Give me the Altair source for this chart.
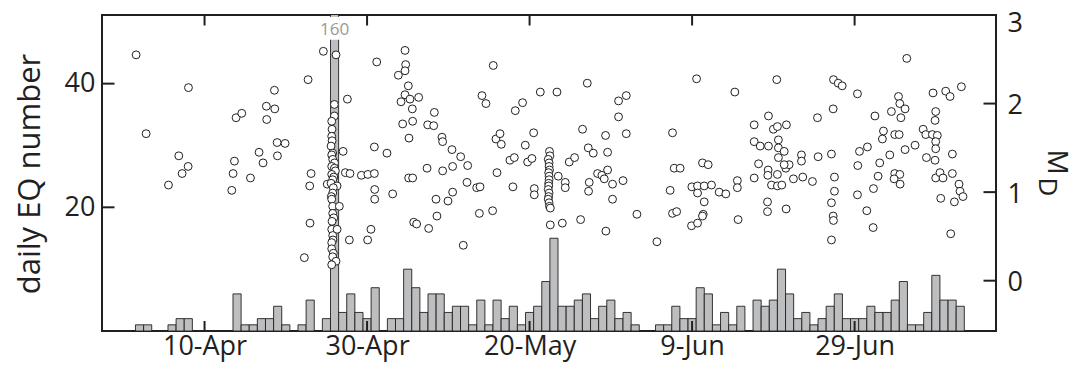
import altair as alt
import pandas as pd

# ---------------- data ----------------
BASE = "2019-04-10"          # day offsets below are counted from 10-Apr
X_START, X_END = -12.62, 97.4
TICK_DAYS = [0, 20, 40, 60, 80]
COUNT_TICKS = [20, 40]
MAG_TICKS = [0, 1, 2, 3]
COUNT_DOMAIN = [0, 51.1]
MAG_DOMAIN = [-0.568, 3.0]

# daily earthquake number (bars)
bar_day = [-8, -7, -4, -3, -2,
           4, 5, 6, 7, 8, 9, 10,
           12, 13,
           15, 16, 17, 18, 19, 20, 21,
           23, 24, 25, 26, 27, 28, 29, 30, 31, 32, 33, 34, 35, 36, 37, 38, 39, 40,
           41, 42, 43, 44, 45, 46, 47, 48, 49, 50, 51, 52, 53,
           56, 57, 58, 59, 60, 61, 62, 63, 64, 65, 66,
           68, 69, 70, 71, 72, 73, 74, 75, 76, 77, 78, 79, 80, 81, 82, 83, 84, 85,
           86, 87, 88, 89, 90, 91, 92, 93]
bar_count = [1, 1, 1, 2, 2,
             6, 1, 1, 2, 2, 4, 1,
             1, 5,
             2, 160, 3, 6, 3, 2, 7,
             2, 2, 10, 7, 3, 6, 6, 3, 4, 4, 1, 5, 1, 5, 2, 4, 1, 3,
             4, 8, 15, 4, 4, 5, 6, 2, 4, 5, 2, 3, 1,
             1, 1, 4, 2, 2, 7, 6, 1, 3, 1, 4,
             5, 4, 5, 10, 6, 2, 3, 1, 2, 4, 6, 2, 2, 2, 4, 3, 3, 5,
             8, 1, 1, 3, 9, 5, 5, 4]

# broken tall bar annotation
BREAK_DAY = 16
BREAK_RANGE = [47.1, 50.8]
BREAK_LABEL = "160"
BREAK_LABEL_Y = 48.6

# magnitude M_D of single events (circles)
day_a = [-8.42, -7.19, -4.44, -3.17, -2.76, -2.02, -1.98,
         3.35, 3.51, 3.68, 3.88, 4.58, 5.65, 6.71, 7.2, 7.61, 7.65, 8.6, 8.64, 8.93, 8.97, 9.91,
         12.28, 12.74, 12.94, 13.11, 12.98, 14.62, 15.1]
mag_a = [2.55, 1.66, 1.08, 1.41, 1.21, 1.29, 2.18,
         1.02, 1.21, 1.35, 1.84, 1.89, 1.16, 1.45, 1.33, 1.97, 1.82, 2.15, 1.94, 1.56, 1.41, 1.55,
         0.26, 2.27, 1.07, 1.21, 0.65, 2.59, 1.09]
day_b = [15.98, 15.98, 15.65, 15.69, 15.65, 15.7, 15.57, 15.77, 15.65, 15.77,
         16.0, 15.65, 15.98, 16.1, 15.65, 15.9, 15.77, 15.57, 16.31, 15.85,
         15.77, 15.6, 15.65, 15.77, 16.59, 15.77, 15.9, 15.69, 15.65, 16.31,
         15.77, 15.8, 15.65, 15.65, 15.85, 15.77, 16.18, 15.65]
mag_b = [1.99, 1.86, 1.80, 1.71, 1.63, 1.58, 1.52, 1.44, 1.42, 1.37,
         1.33, 1.29, 1.27, 1.24, 1.20, 1.17, 1.14, 1.10, 1.07, 1.05,
         0.99, 0.95, 0.92, 0.84, 0.84, 0.76, 0.71, 0.67, 0.58, 0.58,
         0.51, 0.46, 0.43, 0.36, 0.31, 0.27, 0.22, 0.18]
day_c = [16.18, 17.58, 17.05, 17.33, 17.9, 17.82, 19.3, 20.1, 20.9, 20.9,
         21.19, 20.94, 20.94, 20.48, 20.07, 22.45]
mag_c = [2.55, 2.05, 1.46, 1.22, 1.21, 0.46, 1.19, 1.20, 1.21, 1.51,
         2.47, 1.03, 0.92, 0.58, 0.46, 1.44]
day_d = [23.15, 24.67, 24.75, 24.67, 23.85, 25.08, 24.67, 26.35, 25.28, 24.18,
         25.57, 25.61, 24.38, 25.16, 25.12, 25.61, 27.46, 28.2, 28.28, 29.22,
         29.3, 27.38, 29.3, 30.45, 30.53, 31.52, 32.38, 32.3, 30.53, 29.96,
         28.48, 28.6, 25.74, 26.1, 27.58, 31.84, 33.49, 33.9, 33.82, 35.45,
         35.99, 34.14, 34.63, 35.53, 35.86, 36.36, 36.52, 37.58, 38.12, 37.95,
         38.24, 39.14, 39.47, 39.76, 40.29, 40.5, 40.58, 40.58, 41.32, 43.37]
mag_d = [0.98, 2.60, 2.44, 2.37, 2.32, 2.20, 2.10, 2.07, 2.05, 2.02,
         1.94, 1.80, 1.77, 1.61, 1.16, 1.16, 1.76, 1.75, 1.90, 1.62,
         1.57, 1.27, 1.24, 1.48, 1.29, 1.40, 1.30, 1.11, 1.00, 0.90,
         0.92, 0.73, 0.66, 0.64, 0.59, 0.40, 1.05, 1.06, 0.76, 0.79,
         1.22, 2.09, 2.00, 2.43, 1.60, 1.66, 1.54, 1.36, 1.39, 1.06,
         1.92, 2.01, 1.53, 1.34, 1.38, 1.67, 1.04, 0.97, 2.13, 2.13]
day_e = [42.45, 42.5, 42.3, 42.4, 42.4, 42.45, 42.35, 42.4, 42.4, 42.35,
         42.35, 42.3, 42.4, 42.35, 42.3, 42.4, 42.45, 42.55]
mag_e = [1.46, 1.41, 1.37, 1.33, 1.29, 1.25, 1.22, 1.18, 1.14, 1.10,
         1.07, 1.03, 0.99, 0.95, 0.92, 0.88, 0.84, 0.82]
day_f = [43.53, 44.39, 44.39, 42.55, 44.03, 44.88, 45.54, 46.52, 47.1, 47.22,
         47.84, 46.28, 47.34, 47.26, 48.37, 48.9, 49.35, 49.6, 49.6, 49.19,
         50.21, 50.21, 49.39, 50.95, 51.9, 50.95, 51.9, 51.5, 53.21, 55.67,
         57.59, 57.8, 58.53, 57.3, 57.59, 58.1, 59.97, 59.93, 60.67]
mag_f = [1.18, 1.11, 1.05, 0.63, 0.65, 1.34, 1.39, 1.71, 2.23, 1.50,
         1.44, 0.69, 1.11, 1.01, 1.21, 1.19, 1.64, 1.45, 1.25, 1.15,
         1.09, 0.92, 0.56, 2.03, 2.09, 1.85, 1.66, 1.13, 0.75, 0.44,
         1.67, 1.27, 1.27, 1.02, 0.76, 0.78, 1.06, 0.62, 0.65]
day_g = [60.55, 61.28, 61.98, 60.67, 60.67, 61.49, 62.39, 63.33, 64.15, 61.49,
         61.37, 61.28, 65.26, 65.57, 65.57, 65.66, 67.64, 67.64, 67.64, 68.38,
         69.4, 69.4, 68.18, 69.36, 69.32, 69.77, 69.28, 69.28, 70.42, 70.0,
         70.5, 71.61, 70.62, 70.62, 70.62, 71.33, 71.53, 71.94, 71.33, 70.5,
         70.5, 71.04, 71.57, 72.47, 73.46, 73.46, 73.62, 74.81, 75.43, 75.51]
mag_g = [2.28, 1.33, 1.31, 1.07, 0.99, 1.07, 1.08, 1.00, 0.98, 0.89,
         0.75, 0.73, 2.13, 1.13, 1.05, 0.69, 1.76, 1.57, 1.16, 1.52,
         1.52, 1.86, 1.32, 1.25, 1.19, 1.08, 0.89, 0.78, 2.27, 1.71,
         1.74, 1.76, 1.59, 1.50, 1.39, 1.46, 1.27, 1.31, 1.31, 1.20,
         1.07, 1.08, 0.81, 1.15, 1.42, 1.35, 1.17, 1.12, 1.84, 1.40]
day_h = [77.36, 77.4, 77.98, 78.47, 80.35, 77.15, 77.52, 77.52, 77.15, 77.36,
         77.4, 77.15, 80.39, 80.6, 81.58, 80.35, 81.5, 82.32, 82.28, 82.5,
         83.09, 82.89, 83.55, 83.42, 84.33, 84.53, 84.94, 85.48, 85.4, 85.56,
         86.21, 85.69, 86.42, 86.21, 84.94, 85.56, 84.86, 85.6, 87.44, 88.43,
         88.76, 89.65, 89.98, 89.9, 89.57, 90.18, 89.98, 89.98, 88.84, 89.9,
         89.98, 90.51, 90.88, 90.6, 91.21, 91.75, 93.14, 92.03, 92.03, 92.85,
         92.97, 93.34, 92.28, 91.83]
mag_h = [1.94, 2.27, 2.23, 2.20, 2.11, 1.43, 1.17, 1.01, 0.88, 0.73,
         0.68, 0.46, 1.30, 1.46, 1.51, 0.97, 0.79, 1.04, 0.60, 1.86,
         1.33, 1.18, 1.69, 1.60, 1.42, 1.91, 1.65, 1.65, 2.08, 2.00,
         1.94, 1.84, 2.51, 1.48, 1.21, 1.20, 1.15, 1.09, 1.53, 1.71,
         1.65, 2.12, 1.91, 1.81, 1.65, 1.64, 1.57, 1.49, 1.39, 1.36,
         1.16, 1.22, 1.16, 0.93, 2.14, 2.08, 2.19, 1.43, 1.21, 1.09,
         1.01, 0.95, 0.89, 0.53]

md_day = day_a + day_b + day_c + day_d + day_e + day_f + day_g + day_h
md_mag = mag_a + mag_b + mag_c + mag_d + mag_e + mag_f + mag_g + mag_h
assert len(md_day) == len(md_mag)
assert len(bar_day) == len(bar_count)

# ---------------- styling ----------------
W, H = 894, 316
FONT = "Open Sans"
INK = "#231f20"
GRAY = "#bcbec0"

t0 = pd.Timestamp(BASE, tz="UTC")


def iso(days):
    return [(t0 + pd.Timedelta(days=float(d))).strftime("%Y-%m-%dT%H:%M:%SZ") for d in days]


def ms(d):
    return int((t0 + pd.Timedelta(days=float(d))).value // 10**6)


bars_df = pd.DataFrame({
    "start": iso([d - 0.5 for d in bar_day]),
    "end": iso([d + 0.5 for d in bar_day]),
    "count": bar_count,
})
pts_df = pd.DataFrame({"t": iso(md_day), "mag": md_mag})
brk_df = pd.DataFrame({
    "start": iso([BREAK_DAY - 0.62]), "end": iso([BREAK_DAY + 0.62]),
    "lo": [BREAK_RANGE[0]], "hi": [BREAK_RANGE[1]],
    "t": iso([BREAK_DAY]), "y": [BREAK_LABEL_Y], "label": [BREAK_LABEL],
})
xt_df = pd.DataFrame({"t": iso(TICK_DAYS)})
ct_df = pd.DataFrame({"v": COUNT_TICKS})
mt_df = pd.DataFrame({"v": MAG_TICKS})
one = pd.DataFrame({"a": [0]})

xs = alt.Scale(type="utc", domain=[ms(X_START), ms(X_END)])
x_axis = alt.Axis(values=[ms(d) for d in TICK_DAYS],
                  labelExpr="utcFormat(datum.value, '%-d-%b')",
                  title=None, grid=False, domain=False, ticks=False, tickSize=0,
                  labelFont=FONT, labelFontSize=27, labelColor=INK, labelPadding=23,
                  labelBaseline="alphabetic", labelFlush=False, labelOverlap=False)
yc = alt.Scale(domain=COUNT_DOMAIN, nice=False, zero=False)
yc_axis = alt.Axis(orient="left", values=COUNT_TICKS, title=None, grid=False, domain=False,
                   ticks=False, tickSize=0, labelFont=FONT, labelFontSize=27, labelColor=INK,
                   labelPadding=7)
ym = alt.Scale(domain=MAG_DOMAIN, nice=False, zero=False)
ym_axis = alt.Axis(orient="right", values=MAG_TICKS, title=None, grid=False, domain=False,
                   ticks=False, tickSize=0, labelFont=FONT, labelFontSize=27, labelColor=INK,
                   labelPadding=11,
                   labelOffset={"condition": {"test": "datum.value >= 2.5", "value": 8},
                                "value": 2})

bars = alt.Chart(bars_df).mark_bar(fill=GRAY, stroke=INK, strokeWidth=0.9, clip=True).encode(
    x=alt.X("start:T", scale=xs, axis=x_axis), x2="end:T",
    y=alt.Y("count:Q", scale=yc, axis=yc_axis), y2=alt.datum(0))
brk = alt.Chart(brk_df).mark_rect(fill="white").encode(
    x=alt.X("start:T", scale=xs, axis=x_axis), x2="end:T",
    y=alt.Y("lo:Q", scale=yc, axis=yc_axis), y2="hi:Q")
brk_txt = alt.Chart(brk_df).mark_text(font=FONT, fontSize=17, color="#999999",
                                       align="center", baseline="middle").encode(
    x=alt.X("t:T", scale=xs, axis=x_axis), y=alt.Y("y:Q", scale=yc, axis=yc_axis), text="label:N")
lticks = alt.Chart(ct_df).mark_rule(stroke=INK, strokeWidth=2).encode(
    y=alt.Y("v:Q", scale=yc, axis=yc_axis), x=alt.value(0), x2=alt.value(12.5))
count_layer = alt.layer(bars, brk, brk_txt, lticks)

pts = alt.Chart(pts_df).mark_point(shape="circle", filled=True, fill="white", stroke=INK,
                                   strokeWidth=1, size=62, opacity=1).encode(
    x=alt.X("t:T", scale=xs, axis=x_axis), y=alt.Y("mag:Q", scale=ym, axis=ym_axis))
rticks = alt.Chart(mt_df).mark_rule(stroke=INK, strokeWidth=2).encode(
    y=alt.Y("v:Q", scale=ym, axis=ym_axis), x=alt.value(W - 12.5), x2=alt.value(W))
top_ticks = alt.Chart(xt_df).mark_rule(stroke=INK, strokeWidth=2).encode(
    x=alt.X("t:T", scale=xs, axis=x_axis), y=alt.value(0), y2=alt.value(10.5))
bot_ticks = alt.Chart(xt_df).mark_rule(stroke=INK, strokeWidth=2).encode(
    x=alt.X("t:T", scale=xs, axis=x_axis), y=alt.value(H), y2=alt.value(H - 10))
left_title = alt.Chart(one).mark_text(text="daily EQ number", angle=270, font=FONT, fontSize=31,
                                      color=INK, align="center", baseline="alphabetic").encode(
    x=alt.value(-62), y=alt.value(159))
m_title = alt.Chart(one).mark_text(text="M", angle=90, font=FONT, fontSize=28, color=INK,
                                   align="center", baseline="alphabetic").encode(
    x=alt.value(W + 52), y=alt.value(147))
d_title = alt.Chart(one).mark_text(text="D", angle=90, font=FONT, fontSize=26, color=INK,
                                   align="center", baseline="alphabetic").encode(
    x=alt.value(W + 42.5), y=alt.value(172))
mag_layer = alt.layer(pts, rticks, top_ticks, bot_ticks, left_title, m_title, d_title)

chart = alt.layer(count_layer, mag_layer).resolve_scale(y="independent").properties(
    width=W, height=H,
    padding={"left": 94, "top": 7, "right": 82, "bottom": 33},
    autosize=alt.AutoSizeParams(type="none"),
).configure_view(stroke=INK, strokeWidth=2)

chart.save("out.html", embed_options={"renderer": "svg", "actions": False})
